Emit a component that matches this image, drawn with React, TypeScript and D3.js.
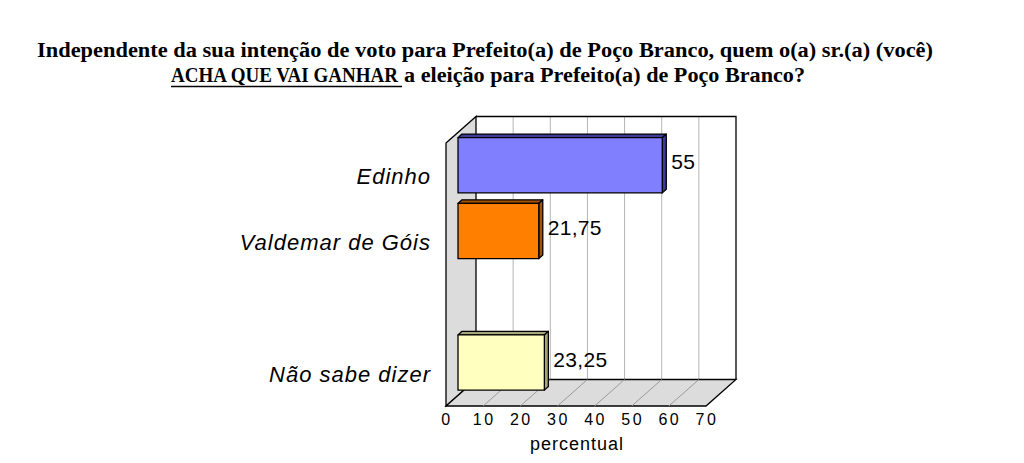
import React from 'react';
import { scaleLinear, scaleBand } from 'd3';

const categories = ['Edinho', 'Valdemar de Góis', '', 'Não sabe dizer'];
const values: (number | null)[] = [55, 21.75, null, 23.25];
const valueLabels = ['55', '21,75', '', '23,25'];
const barColors = ['#8080FF', '#FF8000', '', '#FFFFC0'];
const sideColors = ['#3c3c9a', '#a35200', '', '#a6a67a'];
const ticks = [0, 10, 20, 30, 40, 50, 60, 70];

const W = 1024;
const H = 463;

// front plane of the plot box, and offset to the back wall
const x = scaleLinear().domain([0, 70]).range([446, 706]);
const y = scaleBand<string>().domain(categories.map((c, i) => i + c)).range([143, 406]).paddingInner(0.16).paddingOuter(0.08);
const DX = 30;
const DY = -26.5;
const T = 0.4; // depth of the bars' front face
const BD = 4; // bar thickness

const titleFont = "'Liberation Serif', serif";

const App: React.FC = () => {
  const top = 143;
  const bottom = 406;
  const x0 = x(0);
  const x70 = x(70);

  return (
    <div style={{ position: 'fixed', left: 0, top: 0 }}>
      <svg width={W} height={H} style={{ display: 'block', background: '#fff' }}>
        <text x={37} y={57} fontFamily={titleFont} fontWeight="bold" fontSize={20}
          textLength={896} lengthAdjust="spacingAndGlyphs">
          Independente da sua intenção de voto para Prefeito(a) de Poço Branco, quem o(a) sr.(a) (você)
        </text>
        <text x={171} y={82} fontFamily={titleFont} fontWeight="bold" fontSize={20}
          textLength={227} lengthAdjust="spacingAndGlyphs">
          ACHA QUE VAI GANHAR
        </text>
        <line x1={171} x2={402} y1={86.5} y2={86.5} stroke="#000" strokeWidth={1.3} />
        <text x={404} y={82} fontFamily={titleFont} fontWeight="bold" fontSize={20}
          textLength={401} lengthAdjust="spacingAndGlyphs">
          a eleição para Prefeito(a) de Poço Branco?
        </text>

        {/* back wall */}
        <rect x={x0 + DX} y={top + DY} width={x70 - x0} height={bottom - top} fill="#fff" />
        {ticks.slice(1, -1).map(t => (
          <line key={'bw' + t} x1={x(t) + DX} x2={x(t) + DX} y1={top + DY} y2={bottom + DY} stroke="#b4b4b4" strokeWidth={1} />
        ))}
        {/* side wall */}
        <polygon points={`${x0},${top} ${x0 + DX},${top + DY} ${x0 + DX},${bottom + DY} ${x0},${bottom}`} fill="#dcdcdc" stroke="#000" strokeWidth={1.3} />
        {/* floor */}
        <polygon points={`${x0},${bottom} ${x70},${bottom} ${x70 + DX},${bottom + DY} ${x0 + DX},${bottom + DY}`} fill="#dcdcdc" stroke="#000" strokeWidth={1.3} />
        {ticks.slice(1, -1).map(t => (
          <line key={'fl' + t} x1={x(t)} x2={x(t) + DX} y1={bottom} y2={bottom + DY} stroke="#9a9a9a" strokeWidth={1} />
        ))}
        <polyline points={`${x0 + DX},${top + DY} ${x70 + DX},${top + DY} ${x70 + DX},${bottom + DY}`} fill="none" stroke="#000" strokeWidth={1.3} />

        {/* bars */}
        {categories.map((c, i) => {
          const v = values[i];
          if (v == null) return null;
          const ox = DX * T;
          const oy = DY * T;
          const bx0 = x(0) + ox;
          const bx1 = x(v) + ox;
          const by0 = (y(i + c) as number) + oy;
          const by1 = by0 + y.bandwidth();
          const dx = BD;
          const dy = -BD * 0.9;
          return (
            <g key={c} stroke="#000" strokeWidth={1.3} strokeLinejoin="round">
              <polygon points={`${bx0},${by0} ${bx0 + dx},${by0 + dy} ${bx1 + dx},${by0 + dy} ${bx1},${by0}`} fill={sideColors[i]} />
              <polygon points={`${bx1},${by0} ${bx1 + dx},${by0 + dy} ${bx1 + dx},${by1 + dy} ${bx1},${by1}`} fill={sideColors[i]} />
              <rect x={bx0} y={by0} width={bx1 - bx0} height={by1 - by0} fill={barColors[i]} />
            </g>
          );
        })}

        {/* value labels */}
        {categories.map((c, i) => {
          const v = values[i];
          if (v == null) return null;
          const cy = (y(i + c) as number) + DY * T + y.bandwidth() / 2;
          return (
            <text key={'v' + c} x={x(v) + DX * T + 9} y={cy + 4} fontFamily="'Liberation Sans', Arial, sans-serif" fontSize={21} letterSpacing={0.3} fill="#000">
              {valueLabels[i]}
            </text>
          );
        })}

        {/* category labels */}
        {categories.map((c, i) => {
          if (!c) return null;
          const cy = (y(i + c) as number) + DY * T + y.bandwidth() / 2;
          return (
            <text key={'c' + c} x={431} y={cy + 19} textAnchor="end" fontFamily="'Liberation Sans', Arial, sans-serif" fontStyle="italic" fontSize={22} letterSpacing={1} fill="#000">
              {c}
            </text>
          );
        })}

        {/* x ticks */}
        {ticks.map(t => (
          <text key={'t' + t} x={x(t) + 1} y={425} textAnchor="middle" fontFamily="'Liberation Sans', Arial, sans-serif" fontSize={16} letterSpacing={2.5} fill="#000">
            {t}
          </text>
        ))}
        <text x={577} y={450} textAnchor="middle" fontFamily="'Liberation Sans', Arial, sans-serif" fontSize={18} letterSpacing={1} fill="#000">percentual</text>
      </svg>
    </div>
  );
};

export default App;
